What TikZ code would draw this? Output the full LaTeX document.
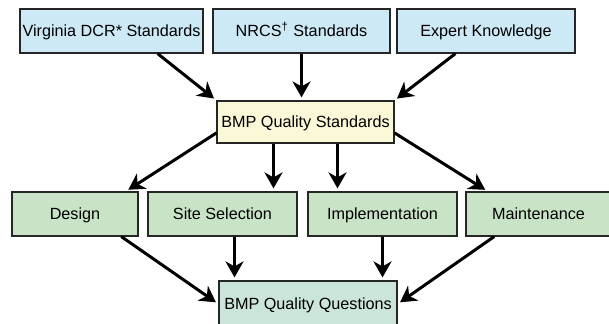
\documentclass[tikz,border=0pt]{standalone}
\usepackage{fontspec}
\setmainfont{Liberation Sans}
\usetikzlibrary{arrows.meta}

\definecolor{srcblue}{HTML}{CCE9F5}
\definecolor{stdyellow}{HTML}{FAF8D6}
\definecolor{stepgreen}{HTML}{C9E3C6}
\definecolor{questgreen}{HTML}{CBE6D8}

\begin{document}
\begin{tikzpicture}[x=0.5pt, y=-0.5pt,
						every node/.style={rectangle, draw=black!85, line width=0.6pt, inner sep=0pt,
							minimum height=22pt, text height=5.8pt, text depth=0.2pt,
							font=\fontsize{8.1}{9.6}\selectfont},
						every path/.style={>={Stealth[length=8pt,width=9pt,inset=2.5pt]}},
						arr/.style={->, line width=1.5pt, shorten >=1.5pt}]
					\useasboundingbox (0,0) rectangle (609,323);

					% sources
					\node[fill=srcblue, minimum width=91.5pt] (dcr) at (111.5,31) {Virginia DCR* Standards};
					\node[fill=srcblue, minimum width=88.5pt] (nrcs) at (301.5,31) {NRCS\textsuperscript{†} Standards};
					\node[fill=srcblue, minimum width=89pt] (expert) at (486,31) {Expert Knowledge};

					\node[fill=stdyellow, minimum width=88.5pt, minimum height=21pt] (std) at (305.5,122) {BMP Quality Standards};

					% categories
					\node[fill=stepgreen, minimum width=63pt] (design) at (75,214) {Design};
					\node[fill=stepgreen, minimum width=74.5pt] (site) at (222.5,214) {Site Selection};
					\node[fill=stepgreen, minimum width=74.5pt] (impl) at (382.5,214) {Implementation};
					\node[fill=stepgreen, minimum width=72.5pt] (maint) at (538.5,214) {Maintenance};

					\node[fill=questgreen, minimum width=89pt, minimum height=23pt] (quest) at (308,304) {BMP Quality Questions};

					\path [arr] ([xshift=-23pt]dcr.south east) edge (std.north west);
					\path [arr] (nrcs.south) edge (nrcs.south |- std.north);
					\path [arr] ([xshift=29.5pt]expert.south west) edge (std.north east);

					\path [arr] (std.187) edge (design.24);
					\path [arr] ([xshift=-16pt]std.south) edge ([xshift=-16pt]std.south |- site.north);
					\path [arr] ([xshift=16pt]std.south) edge ([xshift=16pt]std.south |- impl.north);
					\path [arr] (std.-7) edge (maint.156);

					\path [arr] (design.-26) edge (quest.west);
					\path [arr] ([xshift=6pt]site.south) edge ([xshift=6pt]site.south |- quest.north);
					\path [arr] (impl.south) edge (impl.south |- quest.north);
					\path [arr] (maint.207) edge (quest.east);
				\end{tikzpicture}
\end{document}
